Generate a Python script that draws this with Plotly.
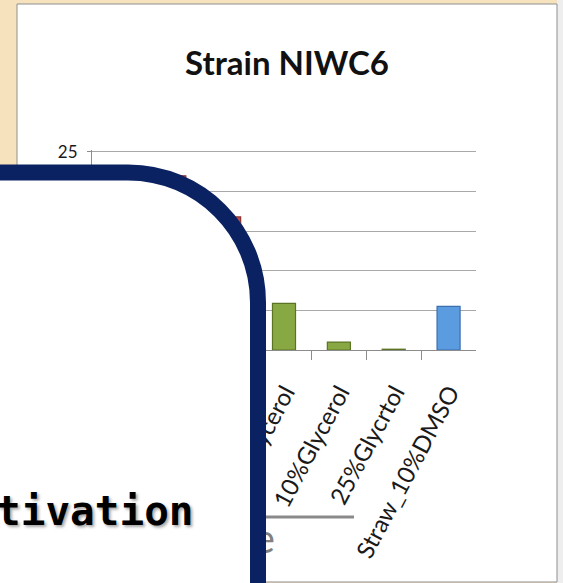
import plotly.graph_objects as go

# Survival by storage medium, strain NIWC6
categories = ["Fresh", "5%DMSO", "10%DMSO", "5%Glycerol", "10%Glycerol", "25%Glycrtol", "Straw_10%DMSO"]
values = [18.5, 22.0, 16.8, 5.9, 1.0, 0.1, 5.5]
groups = ["red", "red", "red", "green", "green", "green", "blue"]
y_ticks = [0, 5, 10, 15, 20, 25]
y_max = 25.2  # a little headroom so the 25 gridline is kept

W, H = 563, 583
fill = {"red": "#c0504d", "green": "#88a843", "blue": "#5b9be0"}
edge = {"red": "#8c3330", "green": "#5a7424", "blue": "#3b6fae"}

# plot area in pixels: value 0 at y=350, 25 at y=152
y0_px, y25_px = 350, 152
y_top_px = y0_px - (y0_px - y25_px) * y_max / 25


def px(x):
    return x / W


def py(y):
    return 1 - y / H


fig = go.Figure()

fig.add_trace(go.Bar(
    x=categories, y=values, width=0.42,
    marker=dict(color=[fill[g] for g in groups],
                line=dict(color=[edge[g] for g in groups], width=1.2)),
    hoverinfo="skip", showlegend=False,
))

# slide heading text that sits behind the callout box
fig.add_trace(go.Scatter(
    x=[275], y=[543], text=["Type"], mode="text", textposition="middle left",
    textfont=dict(family="Lato", size=40, color="#808080"),
    xaxis="x2", yaxis="y2", hoverinfo="skip", showlegend=False,
))

# callout box: white rounded rectangle with a thick navy border
r = 130
k = 0.5523
xr, yt = 258, 172.5
path = (f"M -40 {yt} L {xr - r} {yt} "
        f"C {xr - r + k * r} {yt} {xr} {yt + r - k * r} {xr} {yt + r} "
        f"L {xr} 640 L -40 640 Z")

shapes = [
    # chart frame
    dict(type="rect", xref="paper", yref="paper", layer="below",
         x0=px(557), x1=1.0, y0=0, y1=1, fillcolor="#eeeeee", line=dict(width=0)),
    dict(type="rect", xref="paper", yref="paper", layer="below",
         x0=px(17), x1=px(557), y0=py(582), y1=py(4),
         fillcolor="white", line=dict(color="#8f8f8f", width=1)),
    dict(type="line", xref="x2", yref="y2", x0=100, x1=354, y0=517, y1=517,
         line=dict(color="#8a8a8a", width=3)),
    dict(type="path", xref="x2", yref="y2", path=path,
         fillcolor="white", line=dict(color="#0b2262", width=16)),
]

fig.update_layout(
    width=W, height=H,
    margin=dict(l=0, r=0, t=0, b=0, pad=0, autoexpand=False),
    paper_bgcolor="#f6e3bd",
    plot_bgcolor="rgba(0,0,0,0)",
    showlegend=False,
    title=dict(text="<b>Strain NIWC6</b>", x=px(287), xanchor="center",
               y=py(63), yanchor="middle", yref="paper",
               font=dict(family="Lato", size=33, color="#111111")),
    xaxis=dict(domain=[px(92), px(476)], range=[-0.5, 6.5], automargin=False,
               showgrid=False, showline=True, linecolor="#8c8c8c", linewidth=1,
               ticks="outside", tickson="boundaries", ticklen=9, tickcolor="#8c8c8c",
               tickangle=-62, ticklabelstandoff=18, ticklabelshift=1,
               tickfont=dict(family="Lato", size=24, color="#1a1a1a")),
    yaxis=dict(domain=[py(y0_px), py(y_top_px)], range=[0, y_max], tickvals=y_ticks,
               automargin=False,
               showgrid=True, gridcolor="#a8a8a8", gridwidth=1,
               showline=True, linecolor="#8c8c8c", linewidth=1, zeroline=False,
               ticks="outside", ticklen=4, tickcolor="#8c8c8c", ticklabelstandoff=6,
               tickfont=dict(family="Lato", size=17, color="#1a1a1a")),
    xaxis2=dict(domain=[0, 1], range=[0, W], visible=False, anchor="y2",
                fixedrange=True, automargin=False),
    yaxis2=dict(domain=[0, 1], range=[H, 0], visible=False, anchor="x2",
                fixedrange=True, automargin=False),
    shapes=shapes,
    annotations=[dict(
        text="<b>Cultivation</b>", xref="paper", yref="paper",
        x=px(196), y=py(511), xanchor="right", yanchor="middle", showarrow=False,
        font=dict(family="DejaVu Sans Mono", size=41, color="#000000",
                  shadow="2px 2px 3px rgba(0,0,0,0.35)"),
    )],
)

# page body without the default margin so the figure fills the window
fig.write_html("out.html", post_script="document.body.style.margin='0';")
